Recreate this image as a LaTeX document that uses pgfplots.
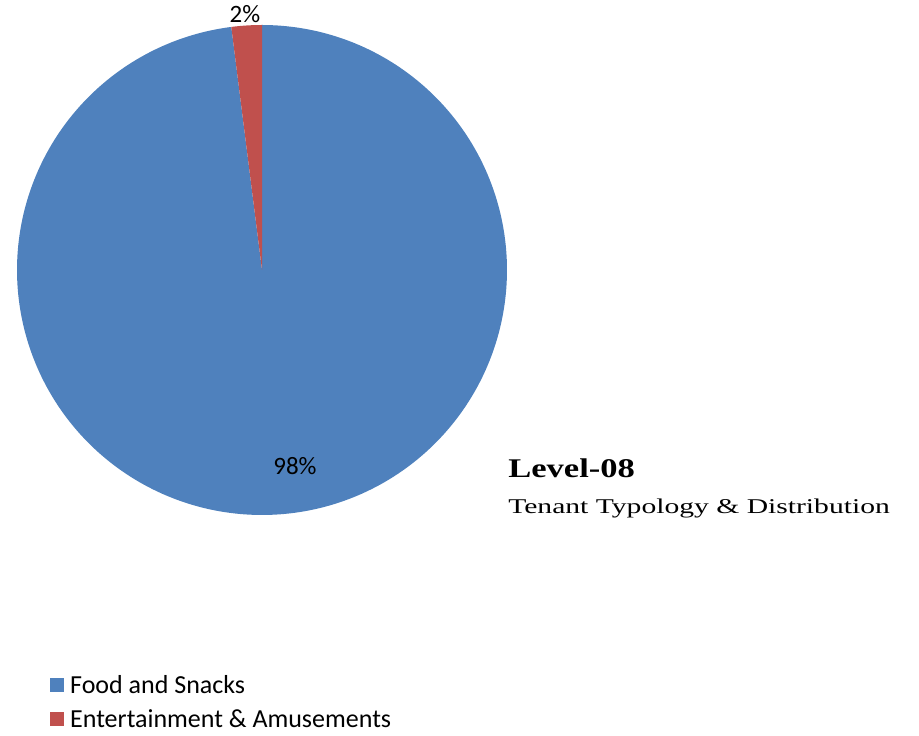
\documentclass[border=0pt]{standalone}
\usepackage{fontspec}
\setmainfont{Liberation Serif}
\newfontfamily\calfont{Carlito}
\usepackage{pgfplots}
\usepackage{pgfplotstable}
\pgfplotsset{compat=1.18}
\definecolor{pieblue}{HTML}{4F81BD}
\definecolor{piered}{HTML}{C0504D}
% share values (percent)
\def\valFood{98}
\def\valEnt{2}
\begin{document}
\begin{tikzpicture}
\begin{axis}[
  width=919pt, height=736pt, scale only axis,
  xmin=0, xmax=919, ymin=0, ymax=736,
  hide axis, clip=false,
  legend style={at={(axis cs:50,62)}, anchor=north west, draw=none, fill=none,
    inner sep=0pt, row sep=13pt, column sep=5pt, font=\calfont\fontsize{26}{30}\selectfont,
    nodes={inner sep=1pt}},
  legend cell align=left,
  legend image code/.code={\fill[#1] (0pt,-7pt) rectangle (14pt,7pt);},
]
\path (axis cs:0,0) rectangle (axis cs:919,736);
% Food and Snacks: clockwise from 12 o'clock
\addplot[fill=pieblue, draw=none, domain=90:90-3.6*\valFood, samples=300]
  ({262+245*cos(x)}, {466+245*sin(x)}) -- (axis cs:262,466) -- cycle;
\addlegendentry{Food and Snacks}
% Entertainment & Amusements
\addplot[fill=piered, draw=none, domain=90-3.6*\valFood:90-3.6*(\valFood+\valEnt), samples=30]
  ({262+245*cos(x)}, {466+245*sin(x)}) -- (axis cs:262,466) -- cycle;
\addlegendentry{Entertainment \& Amusements}
\node[font=\calfont\fontsize{25}{29}\selectfont] at (axis cs:295,270) {98\%};
\node[font=\calfont\fontsize{25}{29}\selectfont, anchor=base] at (axis cs:245,713) {2\%};
\node[anchor=base west, font=\bfseries\fontsize{27}{31}\selectfont, xscale=1.28, inner sep=0pt] at (axis cs:508,258) {Level-08};
\node[anchor=base west, font=\fontsize{21}{25}\selectfont, xscale=1.41, inner sep=0pt] at (axis cs:508,222) {Tenant Typology \& Distribution};
\end{axis}
\end{tikzpicture}
\end{document}
